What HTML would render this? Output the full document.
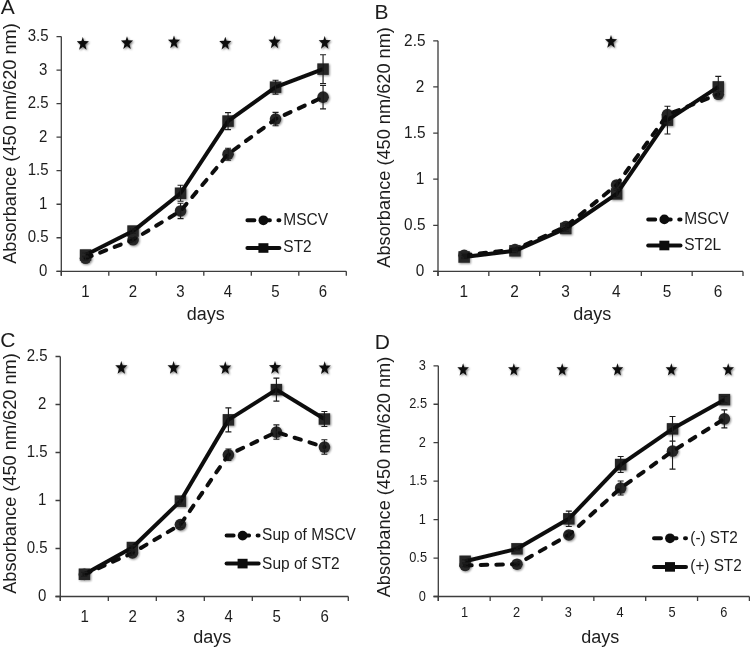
<!DOCTYPE html>
<html><head><meta charset="utf-8"><style>
html,body{margin:0;padding:0;background:#fff;}
svg{display:block;}
</style></head><body>
<svg width="750" height="649" viewBox="0 0 750 649" font-family='"Liberation Sans", sans-serif' fill="#1c1c1c">
<defs>
<filter id="sh" x="-50%" y="-50%" width="200%" height="200%"><feGaussianBlur in="SourceAlpha" stdDeviation="1.2"/><feOffset dx="0.6" dy="1.4" result="b"/><feComponentTransfer><feFuncA type="linear" slope="0.55"/></feComponentTransfer><feMerge><feMergeNode/><feMergeNode in="SourceGraphic"/></feMerge></filter>
<filter id="msh" x="-50%" y="-50%" width="200%" height="200%"><feGaussianBlur in="SourceAlpha" stdDeviation="1.2"/><feOffset dx="0.6" dy="1.4" result="b"/><feComponentTransfer><feFuncA type="linear" slope="0.45"/></feComponentTransfer><feMerge><feMergeNode/><feMergeNode in="SourceGraphic"/></feMerge></filter>
<filter id="soft" x="0" y="0" width="750" height="649" filterUnits="userSpaceOnUse"><feGaussianBlur stdDeviation="0.35"/></filter>
</defs>
<rect width="750" height="649" fill="#fff"/>
<g filter="url(#soft)">
<path d="M61.3 36.6V275.8M56.5 271.3H346.3" stroke="#3c3c3c" stroke-width="1.3" fill="none"/>
<path d="M56.5 271.3H61.3M56.5 237.77H61.3M56.5 204.24H61.3M56.5 170.71H61.3M56.5 137.19H61.3M56.5 103.66H61.3M56.5 70.13H61.3M56.5 36.6H61.3M61.3 271.3V275.8M108.8 271.3V275.8M156.3 271.3V275.8M203.8 271.3V275.8M251.3 271.3V275.8M298.8 271.3V275.8M346.3 271.3V275.8" stroke="#3c3c3c" stroke-width="1.3" fill="none"/>
<text transform="translate(47.4 276) scale(1 1.08)" text-anchor="end" font-size="15">0</text>
<text transform="translate(48.6 242.47) scale(1 1.08)" text-anchor="end" font-size="15">0.5</text>
<text transform="translate(47.4 208.94) scale(1 1.08)" text-anchor="end" font-size="15">1</text>
<text transform="translate(48.6 175.41) scale(1 1.08)" text-anchor="end" font-size="15">1.5</text>
<text transform="translate(47.4 141.88) scale(1 1.08)" text-anchor="end" font-size="15">2</text>
<text transform="translate(48.6 108.36) scale(1 1.08)" text-anchor="end" font-size="15">2.5</text>
<text transform="translate(47.4 74.83) scale(1 1.08)" text-anchor="end" font-size="15">3</text>
<text transform="translate(48.6 41.3) scale(1 1.08)" text-anchor="end" font-size="15">3.5</text>
<text transform="translate(85.45 297.1) scale(1 1.08)" text-anchor="middle" font-size="15">1</text>
<text transform="translate(132.95 297.1) scale(1 1.08)" text-anchor="middle" font-size="15">2</text>
<text transform="translate(180.45 297.1) scale(1 1.08)" text-anchor="middle" font-size="15">3</text>
<text transform="translate(227.95 297.1) scale(1 1.08)" text-anchor="middle" font-size="15">4</text>
<text transform="translate(275.45 297.1) scale(1 1.08)" text-anchor="middle" font-size="15">5</text>
<text transform="translate(322.95 297.1) scale(1 1.08)" text-anchor="middle" font-size="15">6</text>
<text x="205.7" y="319.7" text-anchor="middle" font-size="18">days</text>
<text transform="translate(16.2 143.5) rotate(-90)" text-anchor="middle" font-size="18.2">Absorbance (450 nm/620 nm)</text>
<text x="0.8" y="13.8" font-size="21">A</text>
<path d="M82.8 36.99 L84.14 41.08 L88.85 41.25 L85.23 44.71 L86.5 49.76 L82.8 46.83 L79.1 49.76 L80.37 44.71 L76.75 41.25 L81.46 41.08ZM127 36.19 L128.34 40.28 L133.05 40.45 L129.43 43.91 L130.7 48.96 L127 46.03 L123.3 48.96 L124.57 43.91 L120.95 40.45 L125.66 40.28ZM174 35.39 L175.34 39.48 L180.05 39.65 L176.43 43.11 L177.7 48.16 L174 45.23 L170.3 48.16 L171.57 43.11 L167.95 39.65 L172.66 39.48ZM225.3 36.69 L226.64 40.78 L231.35 40.95 L227.73 44.41 L229 49.46 L225.3 46.53 L221.6 49.46 L222.87 44.41 L219.25 40.95 L223.96 40.78ZM274.5 35.49 L275.84 39.58 L280.55 39.75 L276.93 43.21 L278.2 48.26 L274.5 45.33 L270.8 48.26 L272.07 43.21 L268.45 39.75 L273.16 39.58ZM324.7 35.89 L326.04 39.98 L330.75 40.15 L327.13 43.61 L328.4 48.66 L324.7 45.73 L321 48.66 L322.27 43.61 L318.65 40.15 L323.36 39.98Z" fill="#111" filter="url(#sh)"/>
<g fill="#262626" filter="url(#msh)"><circle cx="85.55" cy="258.29" r="5.8"/><circle cx="133.05" cy="239.78" r="5.8"/><circle cx="180.55" cy="210.95" r="5.8"/><circle cx="228.05" cy="154.22" r="5.8"/><circle cx="275.55" cy="119.08" r="5.8"/><circle cx="323.05" cy="97.15" r="5.8"/><rect x="79.8" y="249.26" width="11.5" height="11.5"/><rect x="127.3" y="225.32" width="11.5" height="11.5"/><rect x="174.8" y="187.5" width="11.5" height="11.5"/><rect x="222.3" y="115.34" width="11.5" height="11.5"/><rect x="269.8" y="81.41" width="11.5" height="11.5"/><rect x="317.3" y="63.37" width="11.5" height="11.5"/></g>
<path d="M85.55 258.29 L133.05 239.78 L180.55 210.95 L228.05 154.22 L275.55 119.08 L323.05 97.15" stroke="#111" stroke-width="4" fill="none" stroke-dasharray="6.6 9" stroke-linecap="round" stroke-linejoin="round"/>
<path d="M85.55 255.01 L133.05 231.07 L180.55 193.25 L228.05 121.09 L275.55 87.16 L323.05 69.12" stroke="#111" stroke-width="4" fill="none" stroke-linejoin="round"/>
<path d="M85.55 256.28V260.3M82.55 256.28H88.55M82.55 260.3H88.55M133.05 237.77V241.79M130.05 237.77H136.05M130.05 241.79H136.05M180.55 203.24V218.66M177.55 203.24H183.55M177.55 218.66H183.55M228.05 148.18V160.25M225.05 148.18H231.05M225.05 160.25H231.05M275.55 112.37V125.79M272.55 112.37H278.55M272.55 125.79H278.55M323.05 85.42V108.89M320.05 85.42H326.05M320.05 108.89H326.05M85.55 252.99V257.02M82.55 252.99H88.55M82.55 257.02H88.55M133.05 229.05V233.08M130.05 229.05H136.05M130.05 233.08H136.05M180.55 185.2V201.29M177.55 185.2H183.55M177.55 201.29H183.55M228.05 112.58V129.61M225.05 112.58H231.05M225.05 129.61H231.05M275.55 80.19V94.14M272.55 80.19H278.55M272.55 94.14H278.55M323.05 54.71V83.54M320.05 54.71H326.05M320.05 83.54H326.05" stroke="#1a1a1a" stroke-width="1.1" fill="none"/>
<path d="M247.4 220.3H279.4" stroke="#111" stroke-width="4" stroke-dasharray="7 8.5" stroke-linecap="round" fill="none"/>
<circle cx="263.4" cy="220.3" r="4.9" fill="#111"/>
<path d="M247.4 248H279.4" stroke="#111" stroke-width="4" stroke-linecap="round" fill="none"/>
<rect x="258.4" y="243.2" width="10" height="9.6" fill="#111"/>
<text transform="translate(283.3 224.7) scale(1 1.05)" font-size="15.5">MSCV</text>
<text transform="translate(283.3 252.3) scale(1 1.05)" font-size="15.5">ST2</text>
<path d="M438 40.8V275.9M433.2 271.4H743" stroke="#3c3c3c" stroke-width="1.3" fill="none"/>
<path d="M433.2 271.4H438M433.2 225.28H438M433.2 179.16H438M433.2 133.04H438M433.2 86.92H438M433.2 40.8H438M438 271.4V275.9M488.83 271.4V275.9M539.67 271.4V275.9M590.5 271.4V275.9M641.33 271.4V275.9M692.17 271.4V275.9M743 271.4V275.9" stroke="#3c3c3c" stroke-width="1.3" fill="none"/>
<text transform="translate(424.3 276.22) scale(1 1.08)" text-anchor="end" font-size="15.4">0</text>
<text transform="translate(425.5 230.1) scale(1 1.08)" text-anchor="end" font-size="15.4">0.5</text>
<text transform="translate(424.3 183.98) scale(1 1.08)" text-anchor="end" font-size="15.4">1</text>
<text transform="translate(425.5 137.86) scale(1 1.08)" text-anchor="end" font-size="15.4">1.5</text>
<text transform="translate(424.3 91.74) scale(1 1.08)" text-anchor="end" font-size="15.4">2</text>
<text transform="translate(425.5 45.62) scale(1 1.08)" text-anchor="end" font-size="15.4">2.5</text>
<text transform="translate(463.82 296.6) scale(1 1.08)" text-anchor="middle" font-size="15.4">1</text>
<text transform="translate(514.65 296.6) scale(1 1.08)" text-anchor="middle" font-size="15.4">2</text>
<text transform="translate(565.48 296.6) scale(1 1.08)" text-anchor="middle" font-size="15.4">3</text>
<text transform="translate(616.32 296.6) scale(1 1.08)" text-anchor="middle" font-size="15.4">4</text>
<text transform="translate(667.15 296.6) scale(1 1.08)" text-anchor="middle" font-size="15.4">5</text>
<text transform="translate(717.98 296.6) scale(1 1.08)" text-anchor="middle" font-size="15.4">6</text>
<text x="592.3" y="319.7" text-anchor="middle" font-size="18">days</text>
<text transform="translate(389.9 147.4) rotate(-90)" text-anchor="middle" font-size="18.2">Absorbance (450 nm/620 nm)</text>
<text x="374.5" y="18.5" font-size="21">B</text>
<path d="M611 34.89 L612.34 38.98 L617.05 39.15 L613.43 42.61 L614.7 47.66 L611 44.73 L607.3 47.66 L608.57 42.61 L604.95 39.15 L609.66 38.98Z" fill="#111" filter="url(#sh)"/>
<g fill="#262626" filter="url(#msh)"><circle cx="464.12" cy="255.26" r="5.8"/><circle cx="514.95" cy="249.54" r="5.8"/><circle cx="565.78" cy="226.48" r="5.8"/><circle cx="616.62" cy="184.97" r="5.8"/><circle cx="667.45" cy="114.59" r="5.8"/><circle cx="718.28" cy="94.3" r="5.8"/><rect x="458.37" y="251.26" width="11.5" height="11.5"/><rect x="509.2" y="245.08" width="11.5" height="11.5"/><rect x="560.03" y="222.76" width="11.5" height="11.5"/><rect x="610.87" y="188.17" width="11.5" height="11.5"/><rect x="661.7" y="114.38" width="11.5" height="11.5"/><rect x="712.53" y="81.17" width="11.5" height="11.5"/></g>
<path d="M464.12 255.26 L514.95 249.54 L565.78 226.48 L616.62 184.97 L667.45 114.59 L718.28 94.3" stroke="#111" stroke-width="4" fill="none" stroke-dasharray="6.6 9" stroke-linecap="round" stroke-linejoin="round"/>
<path d="M464.12 257.01 L514.95 250.83 L565.78 228.51 L616.62 193.92 L667.45 120.13 L718.28 86.92" stroke="#111" stroke-width="4" fill="none" stroke-linejoin="round"/>
<path d="M464.12 253.41V257.1M461.12 253.41H467.12M461.12 257.1H467.12M514.95 247.69V251.38M511.95 247.69H517.95M511.95 251.38H517.95M565.78 223.71V229.25M562.78 223.71H568.78M562.78 229.25H568.78M616.62 181.28V188.66M613.62 181.28H619.62M613.62 188.66H619.62M667.45 106.29V122.89M664.45 106.29H670.45M664.45 122.89H670.45M718.28 91.53V97.07M715.28 91.53H721.28M715.28 97.07H721.28M464.12 255.17V258.86M461.12 255.17H467.12M461.12 258.86H467.12M514.95 248.99V252.68M511.95 248.99H517.95M511.95 252.68H517.95M565.78 225.74V231.28M562.78 225.74H568.78M562.78 231.28H568.78M616.62 190.23V197.61M613.62 190.23H619.62M613.62 197.61H619.62M667.45 106.29V133.96M664.45 106.29H670.45M664.45 133.96H670.45M718.28 76.4V97.44M715.28 76.4H721.28M715.28 97.44H721.28" stroke="#1a1a1a" stroke-width="1.1" fill="none"/>
<path d="M648.2 219.4H680.5" stroke="#111" stroke-width="4" stroke-dasharray="7 8.5" stroke-linecap="round" fill="none"/>
<circle cx="664.35" cy="219.4" r="4.9" fill="#111"/>
<path d="M648.2 245.5H680.5" stroke="#111" stroke-width="4" stroke-linecap="round" fill="none"/>
<rect x="659.35" y="240.7" width="10" height="9.6" fill="#111"/>
<text transform="translate(684.2 224.2) scale(1 1.05)" font-size="15.5">MSCV</text>
<text transform="translate(684.2 249.9) scale(1 1.05)" font-size="15.5">ST2L</text>
<path d="M60.3 356.5V601M55.5 596.5H348.3" stroke="#3c3c3c" stroke-width="1.3" fill="none"/>
<path d="M55.5 596.5H60.3M55.5 548.5H60.3M55.5 500.5H60.3M55.5 452.5H60.3M55.5 404.5H60.3M55.5 356.5H60.3M60.3 596.5V601M108.3 596.5V601M156.3 596.5V601M204.3 596.5V601M252.3 596.5V601M300.3 596.5V601M348.3 596.5V601" stroke="#3c3c3c" stroke-width="1.3" fill="none"/>
<text transform="translate(46.4 601.2) scale(1 1.08)" text-anchor="end" font-size="15">0</text>
<text transform="translate(47.6 553.2) scale(1 1.08)" text-anchor="end" font-size="15">0.5</text>
<text transform="translate(46.4 505.2) scale(1 1.08)" text-anchor="end" font-size="15">1</text>
<text transform="translate(47.6 457.2) scale(1 1.08)" text-anchor="end" font-size="15">1.5</text>
<text transform="translate(46.4 409.2) scale(1 1.08)" text-anchor="end" font-size="15">2</text>
<text transform="translate(47.6 361.2) scale(1 1.08)" text-anchor="end" font-size="15">2.5</text>
<text transform="translate(84.7 621.8) scale(1 1.08)" text-anchor="middle" font-size="15">1</text>
<text transform="translate(132.7 621.8) scale(1 1.08)" text-anchor="middle" font-size="15">2</text>
<text transform="translate(180.7 621.8) scale(1 1.08)" text-anchor="middle" font-size="15">3</text>
<text transform="translate(228.7 621.8) scale(1 1.08)" text-anchor="middle" font-size="15">4</text>
<text transform="translate(276.7 621.8) scale(1 1.08)" text-anchor="middle" font-size="15">5</text>
<text transform="translate(324.7 621.8) scale(1 1.08)" text-anchor="middle" font-size="15">6</text>
<text x="212.3" y="642.7" text-anchor="middle" font-size="18">days</text>
<text transform="translate(15.8 473.5) rotate(-90)" text-anchor="middle" font-size="18.2">Absorbance (450 nm/620 nm)</text>
<text x="0.15" y="347" font-size="21">C</text>
<path d="M121.3 361.09 L122.64 365.18 L127.35 365.35 L123.73 368.81 L125 373.86 L121.3 370.93 L117.6 373.86 L118.87 368.81 L115.25 365.35 L119.96 365.18ZM173.6 361.09 L174.94 365.18 L179.65 365.35 L176.03 368.81 L177.3 373.86 L173.6 370.93 L169.9 373.86 L171.17 368.81 L167.55 365.35 L172.26 365.18ZM225.25 361.29 L226.59 365.38 L231.3 365.55 L227.68 369.01 L228.95 374.06 L225.25 371.13 L221.55 374.06 L222.82 369.01 L219.2 365.55 L223.91 365.38ZM275 360.89 L276.34 364.98 L281.05 365.15 L277.43 368.61 L278.7 373.66 L275 370.73 L271.3 373.66 L272.57 368.61 L268.95 365.15 L273.66 364.98ZM324.7 361.29 L326.04 365.38 L330.75 365.55 L327.13 369.01 L328.4 374.06 L324.7 371.13 L321 374.06 L322.27 369.01 L318.65 365.55 L323.36 365.38Z" fill="#111" filter="url(#sh)"/>
<g fill="#262626" filter="url(#msh)"><circle cx="84.4" cy="574.42" r="5.8"/><circle cx="132.4" cy="553.01" r="5.8"/><circle cx="180.4" cy="524.6" r="5.8"/><circle cx="228.4" cy="454.8" r="5.8"/><circle cx="276.4" cy="432.05" r="5.8"/><circle cx="324.4" cy="447.03" r="5.8"/><rect x="78.65" y="568.48" width="11.5" height="11.5"/><rect x="126.65" y="541.79" width="11.5" height="11.5"/><rect x="174.65" y="495.42" width="11.5" height="11.5"/><rect x="222.65" y="414.11" width="11.5" height="11.5"/><rect x="270.65" y="383.87" width="11.5" height="11.5"/><rect x="318.65" y="413.25" width="11.5" height="11.5"/></g>
<path d="M84.4 574.42 L132.4 553.01 L180.4 524.6 L228.4 454.8 L276.4 432.05 L324.4 447.03" stroke="#111" stroke-width="4" fill="none" stroke-dasharray="6.6 9" stroke-linecap="round" stroke-linejoin="round"/>
<path d="M84.4 574.23 L132.4 547.54 L180.4 501.17 L228.4 419.86 L276.4 389.62 L324.4 419" stroke="#111" stroke-width="4" fill="none" stroke-linejoin="round"/>
<path d="M84.4 572.5V576.34M81.4 572.5H87.4M81.4 576.34H87.4M132.4 551.09V554.93M129.4 551.09H135.4M129.4 554.93H135.4M180.4 521.72V527.48M177.4 521.72H183.4M177.4 527.48H183.4M228.4 449.04V460.56M225.4 449.04H231.4M225.4 460.56H231.4M276.4 424.85V439.25M273.4 424.85H279.4M273.4 439.25H279.4M324.4 439.73V454.32M321.4 439.73H327.4M321.4 454.32H327.4M84.4 572.31V576.15M81.4 572.31H87.4M81.4 576.15H87.4M132.4 545.62V549.46M129.4 545.62H135.4M129.4 549.46H135.4M180.4 498.29V504.05M177.4 498.29H183.4M177.4 504.05H183.4M228.4 407.86V431.86M225.4 407.86H231.4M225.4 431.86H231.4M276.4 378.1V401.14M273.4 378.1H279.4M273.4 401.14H279.4M324.4 411.51V426.48M321.4 411.51H327.4M321.4 426.48H327.4" stroke="#1a1a1a" stroke-width="1.1" fill="none"/>
<path d="M226.6 535.6H258.6" stroke="#111" stroke-width="4" stroke-dasharray="7 8.5" stroke-linecap="round" fill="none"/>
<circle cx="242.6" cy="535.6" r="4.9" fill="#111"/>
<path d="M226.6 563.6H258.6" stroke="#111" stroke-width="4" stroke-linecap="round" fill="none"/>
<rect x="237.6" y="558.8" width="10" height="9.6" fill="#111"/>
<text transform="translate(262.1 540.4) scale(1 1.05)" font-size="15.5">Sup of MSCV</text>
<text transform="translate(262.1 568.5) scale(1 1.05)" font-size="15.5">Sup of ST2</text>
<path d="M438.3 365.8V601M433.5 596.5H749.4" stroke="#3c3c3c" stroke-width="1.3" fill="none"/>
<path d="M433.5 596.5H438.3M433.5 558.05H438.3M433.5 519.6H438.3M433.5 481.15H438.3M433.5 442.7H438.3M433.5 404.25H438.3M433.5 365.8H438.3M438.3 596.5V601M490.15 596.5V601M542 596.5V601M593.85 596.5V601M645.7 596.5V601M697.55 596.5V601M749.4 596.5V601" stroke="#3c3c3c" stroke-width="1.3" fill="none"/>
<text transform="translate(425.8 600.51) scale(1 1.08)" text-anchor="end" font-size="12.8">0</text>
<text transform="translate(427 562.06) scale(1 1.08)" text-anchor="end" font-size="12.8">0.5</text>
<text transform="translate(425.8 523.61) scale(1 1.08)" text-anchor="end" font-size="12.8">1</text>
<text transform="translate(427 485.16) scale(1 1.08)" text-anchor="end" font-size="12.8">1.5</text>
<text transform="translate(425.8 446.71) scale(1 1.08)" text-anchor="end" font-size="12.8">2</text>
<text transform="translate(427 408.26) scale(1 1.08)" text-anchor="end" font-size="12.8">2.5</text>
<text transform="translate(425.8 369.81) scale(1 1.08)" text-anchor="end" font-size="12.8">3</text>
<text transform="translate(464.62 617.4) scale(1 1.08)" text-anchor="middle" font-size="12.8">1</text>
<text transform="translate(516.48 617.4) scale(1 1.08)" text-anchor="middle" font-size="12.8">2</text>
<text transform="translate(568.32 617.4) scale(1 1.08)" text-anchor="middle" font-size="12.8">3</text>
<text transform="translate(620.17 617.4) scale(1 1.08)" text-anchor="middle" font-size="12.8">4</text>
<text transform="translate(672.02 617.4) scale(1 1.08)" text-anchor="middle" font-size="12.8">5</text>
<text transform="translate(723.87 617.4) scale(1 1.08)" text-anchor="middle" font-size="12.8">6</text>
<text x="600.3" y="643.2" text-anchor="middle" font-size="18">days</text>
<text transform="translate(390.2 477) rotate(-90)" text-anchor="middle" font-size="18.2">Absorbance (450 nm/620 nm)</text>
<text x="374.7" y="348.7" font-size="21">D</text>
<path d="M463.1 363.35 L464.37 367.22 L468.82 367.37 L465.4 370.65 L466.6 375.43 L463.1 372.65 L459.6 375.43 L460.8 370.65 L457.38 367.37 L461.83 367.22ZM513.85 363.35 L515.12 367.22 L519.57 367.37 L516.15 370.65 L517.35 375.43 L513.85 372.65 L510.35 375.43 L511.55 370.65 L508.13 367.37 L512.58 367.22ZM562.2 363.35 L563.47 367.22 L567.92 367.37 L564.5 370.65 L565.7 375.43 L562.2 372.65 L558.7 375.43 L559.9 370.65 L556.48 367.37 L560.93 367.22ZM617.5 363.35 L618.77 367.22 L623.22 367.37 L619.8 370.65 L621 375.43 L617.5 372.65 L614 375.43 L615.2 370.65 L611.78 367.37 L616.23 367.22ZM671.35 363.35 L672.62 367.22 L677.07 367.37 L673.65 370.65 L674.85 375.43 L671.35 372.65 L667.85 375.43 L669.05 370.65 L665.63 367.37 L670.08 367.22ZM728.2 363.35 L729.47 367.22 L733.92 367.37 L730.5 370.65 L731.7 375.43 L728.2 372.65 L724.7 375.43 L725.9 370.65 L722.48 367.37 L726.93 367.22Z" fill="#111" filter="url(#sh)"/>
<g fill="#262626" filter="url(#msh)"><circle cx="465.12" cy="565.36" r="5.8"/><circle cx="516.98" cy="564.2" r="5.8"/><circle cx="568.82" cy="534.98" r="5.8"/><circle cx="620.67" cy="488.07" r="5.8"/><circle cx="672.52" cy="451.16" r="5.8"/><circle cx="724.37" cy="418.86" r="5.8"/><rect x="459.38" y="555.53" width="11.5" height="11.5"/><rect x="511.23" y="543.07" width="11.5" height="11.5"/><rect x="563.07" y="513.08" width="11.5" height="11.5"/><rect x="614.92" y="458.79" width="11.5" height="11.5"/><rect x="666.77" y="423.11" width="11.5" height="11.5"/><rect x="718.62" y="393.89" width="11.5" height="11.5"/></g>
<path d="M465.12 565.36 L516.98 564.2 L568.82 534.98 L620.67 488.07 L672.52 451.16 L724.37 418.86" stroke="#111" stroke-width="4" fill="none" stroke-dasharray="6.6 9" stroke-linecap="round" stroke-linejoin="round"/>
<path d="M465.12 561.28 L516.98 548.82 L568.82 518.83 L620.67 464.54 L672.52 428.86 L724.37 399.64" stroke="#111" stroke-width="4" fill="none" stroke-linejoin="round"/>
<path d="M465.12 563.82V566.89M462.12 563.82H468.12M462.12 566.89H468.12M516.98 562.66V565.74M513.98 562.66H519.98M513.98 565.74H519.98M568.82 531.9V538.06M565.82 531.9H571.82M565.82 538.06H571.82M620.67 481.07V495.07M617.67 481.07H623.67M617.67 495.07H623.67M672.52 433.24V469.08M669.52 433.24H675.52M669.52 469.08H675.52M724.37 409.86V427.86M721.37 409.86H727.37M721.37 427.86H727.37M465.12 559.74V562.82M462.12 559.74H468.12M462.12 562.82H468.12M516.98 547.28V550.36M513.98 547.28H519.98M513.98 550.36H519.98M568.82 511.14V526.52M565.82 511.14H571.82M565.82 526.52H571.82M620.67 456.54V472.54M617.67 456.54H623.67M617.67 472.54H623.67M672.52 416.55V441.16M669.52 416.55H675.52M669.52 441.16H675.52M724.37 396.56V402.71M721.37 396.56H727.37M721.37 402.71H727.37" stroke="#1a1a1a" stroke-width="1.1" fill="none"/>
<path d="M654 538.3H686" stroke="#111" stroke-width="4" stroke-dasharray="7 8.5" stroke-linecap="round" fill="none"/>
<circle cx="670" cy="538.3" r="4.9" fill="#111"/>
<path d="M654 566.9H686" stroke="#111" stroke-width="4" stroke-linecap="round" fill="none"/>
<rect x="665" y="562.1" width="10" height="9.6" fill="#111"/>
<text transform="translate(690.3 542.7) scale(1 1.05)" font-size="15.3">(-) ST2</text>
<text transform="translate(690.3 570.6) scale(1 1.05)" font-size="15.3">(+) ST2</text>
</g>
</svg>
</body></html>
